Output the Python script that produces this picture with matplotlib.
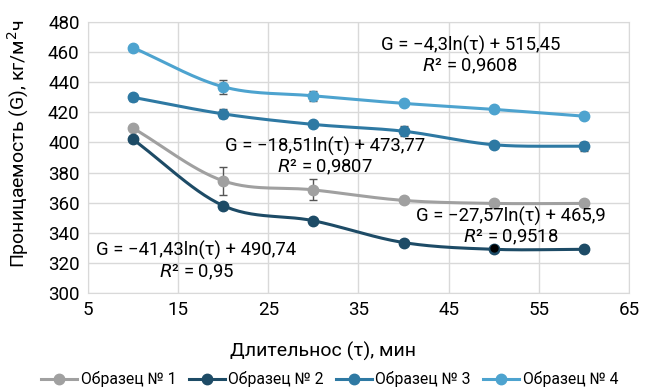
"""
Проницаемость vs длительность, 4 образца
"""

import matplotlib
matplotlib.use("Agg")
import matplotlib.pyplot as plt
import numpy as np

plt.rcParams['font.family'] = ['Roboto', 'DejaVu Sans']

tau = [10, 20, 30, 40, 50, 60]

g1 = [409.5, 374.5, 368.5, 361.5, 359.5, 359.5]
g2 = [402, 358, 348, 333.5, 329, 329]
g3 = [430, 419, 412, 407.5, 398.5, 397.5]
g4 = [463, 437, 431, 426, 422, 417.5]

err1 = [0, 9.5, 7, 2, 0, 0]
err2 = [0, 0, 0, 1.5, 0, 0]
err3 = [2.5, 3, 0, 3.5, 0, 3]
err4 = [0, 4.5, 3.5, 0, 0, 0]

labels = ['Образец № 1', 'Образец № 2', 'Образец № 3', 'Образец № 4']
colors = ['#a0a0a0', '#1d4b66', '#2e79a3', '#4da3cf']

eq_text = ['G = −27,57ln(τ) + 465,9', 'G = −41,43ln(τ) + 490,74',
           'G = −18,51ln(τ) + 473,77', 'G = −4,3ln(τ) + 515,45']
r2_text = ['0,9518', '0,95', '0,9807', '0,9608']
eq_pos = [(51.9, 350.7), (17.0, 328.0), (31.3, 397.3), (47.4, 464.7)]


def smooth(x, y, n=30):
    # catmull-rom, like excel's smoothed line
    x = np.asarray(x, float)
    y = np.asarray(y, float)
    px = np.concatenate([[2 * x[0] - x[1]], x, [2 * x[-1] - x[-2]]])
    py = np.concatenate([[2 * y[0] - y[1]], y, [2 * y[-1] - y[-2]]])
    xs, ys = [], []
    t = np.linspace(0, 1, n)
    for i in range(1, len(px) - 2):
        for p, out in ((px, xs), (py, ys)):
            p0, p1, p2, p3 = p[i - 1], p[i], p[i + 1], p[i + 2]
            out.extend(0.5 * ((2 * p1) + (-p0 + p2) * t
                              + (2 * p0 - 5 * p1 + 4 * p2 - p3) * t ** 2
                              + (-p0 + 3 * p1 - 3 * p2 + p3) * t ** 3))
    return np.array(xs), np.array(ys)


fig = plt.figure(figsize=(6.49, 3.88), dpi=100)
ax = fig.add_axes([0.1356, 0.245, 0.8334, 0.698])

series = [g1, g2, g3, g4]
errs = [err1, err2, err3, err4]
for g, e, c, lab in zip(series, errs, colors, labels):
    sx, sy = smooth(tau, g)
    ax.plot(sx, sy, color=c, lw=2.2, zorder=3)
    ax.errorbar(tau, g, yerr=e, fmt='none', ecolor='#555555', elinewidth=1,
                capsize=3, zorder=4)
    ax.plot(tau, g, 'o', color=c, ms=7.5, zorder=5)
    ax.plot([], [], '-o', color=c, lw=2.2, ms=7.5, label=lab)

ax.plot([50], [330], 'o', color='black', ms=5, zorder=6)

for (x, y), eq, r2 in zip(eq_pos, eq_text, r2_text):
    ax.text(x, y, eq, ha='center', va='center', fontsize=13.3, zorder=7)
    ax.text(x, y - 14, '$R$² = ' + r2, ha='center', va='center', fontsize=13.3,
            zorder=7)

ax.set_xlim(5, 65)
ax.set_ylim(300, 480)
ax.set_xticks(np.arange(5, 66, 10))
ax.set_yticks(np.arange(300, 481, 20))
ax.grid(True, color='#d9d9d9', lw=1)
ax.set_axisbelow(True)
for s in ax.spines.values():
    s.set_color('#d9d9d9')
ax.tick_params(length=0, labelsize=13.5, pad=6)

ax.set_xlabel('Длительнос (τ), мин', fontsize=14)
ax.xaxis.set_label_coords(0.434, -0.18)
ax.set_ylabel('Проницаемость (G), кг/м$^2$ч', fontsize=14)
ax.yaxis.set_label_coords(-0.105, 0.55)

fig.legend(loc='lower center', bbox_to_anchor=(0.508, -0.035), ncol=4,
           frameon=False, fontsize=11.3, handlelength=2.3, handletextpad=0.2,
           columnspacing=0.8)

fig.savefig('out.png', dpi=100)
